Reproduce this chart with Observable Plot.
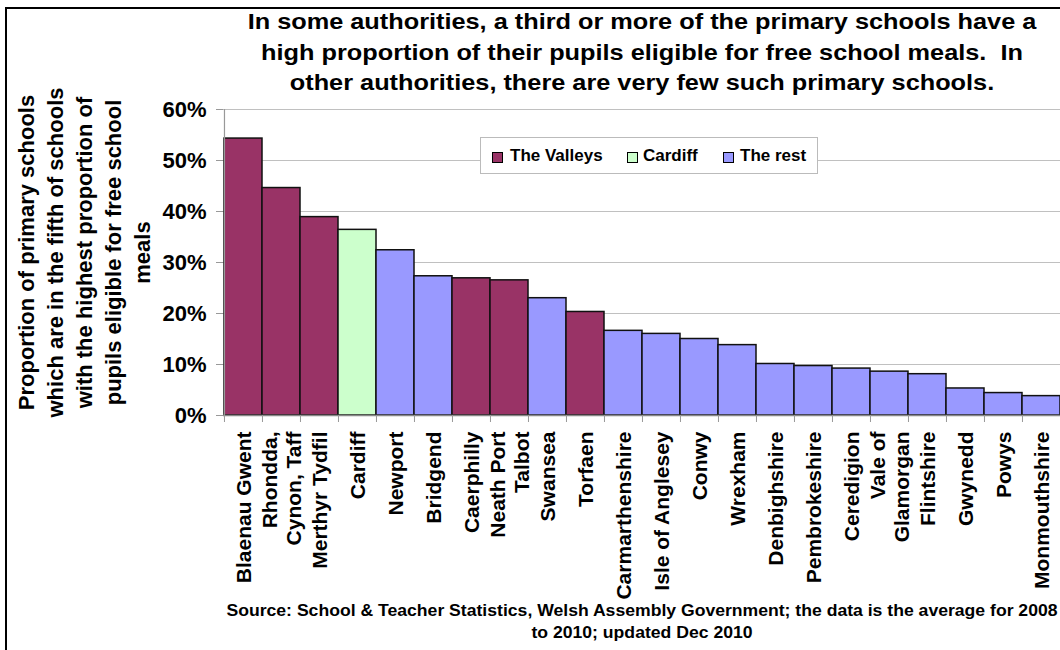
<!DOCTYPE html>
<html>
<head>
<meta charset="utf-8">
<script src="https://cdn.jsdelivr.net/npm/d3@7"></script>
<script src="https://cdn.jsdelivr.net/npm/@observablehq/plot@0.6"></script>
<style>
  body { margin: 0; background: #fff; font-family: "Liberation Sans", Arial, sans-serif; }
  #wrap { position: relative; width: 1060px; height: 650px; overflow: hidden; background: #fff; }
  #chart { position: absolute; left: 0; top: 0; }
  #frame { position: absolute; left: 5px; top: 7px; width: 1100px; height: 700px; border-left: 2px solid #000; border-top: 2px solid #000; pointer-events: none; }
  #title { position: absolute; left: 242px; top: 7px; width: 800px; text-align: center; font-weight: bold; font-size: 22px; line-height: 30.5px; color: #000; transform: scaleX(1.15); white-space: nowrap; }
  #caption { position: absolute; left: 242px; top: 600px; width: 800px; text-align: center; font-weight: bold; font-size: 16px; line-height: 22px; color: #000; transform: scaleX(1.1); white-space: nowrap; }
  #ylabel { position: absolute; left: -86px; top: 180px; width: 340px; height: 145px; text-align: center; font-weight: bold; font-size: 22px; line-height: 29px; color: #000; transform: rotate(-90deg); white-space: nowrap; }
  #legend { position: absolute; left: 480px; top: 137px; width: 336px; height: 35px; border: 1px solid #bbb; background: #fff; }
  .sw { position: absolute; top: 14px; width: 9px; height: 9px; border: 1px solid #000; }
  .lt { position: absolute; top: 8px; font-weight: bold; font-size: 17px; line-height: 20px; color: #000; white-space: nowrap; }
</style>
</head>
<body>
<div id="wrap">
  <div id="chart"></div>
  <div id="title"></div>
  <div id="ylabel"></div>
  <div id="legend"></div>
  <div id="caption"></div>
  <div id="frame"></div>
</div>
<script>
// ---- Data ----
const authorities = [
  "Blaenau Gwent", "Rhondda, Cynon, Taff", "Merthyr Tydfil", "Cardiff", "Newport",
  "Bridgend", "Caerphilly", "Neath Port Talbot", "Swansea", "Torfaen",
  "Carmarthenshire", "Isle of Anglesey", "Conwy", "Wrexham", "Denbighshire",
  "Pembrokeshire", "Ceredigion", "Vale of Glamorgan", "Flintshire", "Gwynedd",
  "Powys", "Monmouthshire"
];
const tickLabels = [
  "Blaenau Gwent", "Rhondda,\nCynon, Taff", "Merthyr Tydfil", "Cardiff", "Newport",
  "Bridgend", "Caerphilly", "Neath Port\nTalbot", "Swansea", "Torfaen",
  "Carmarthenshire", "Isle of Anglesey", "Conwy", "Wrexham", "Denbighshire",
  "Pembrokeshire", "Ceredigion", "Vale of\nGlamorgan", "Flintshire", "Gwynedd",
  "Powys", "Monmouthshire"
];
const shares = [
  54.3, 44.6, 38.9, 36.4, 32.4,
  27.3, 26.9, 26.5, 23.0, 20.3,
  16.6, 16.0, 15.0, 13.8, 10.1,
  9.7, 9.2, 8.6, 8.1, 5.3,
  4.4, 3.8
];
const groups = [
  "The Valleys", "The Valleys", "The Valleys", "Cardiff", "The rest",
  "The rest", "The Valleys", "The Valleys", "The rest", "The Valleys",
  "The rest", "The rest", "The rest", "The rest", "The rest",
  "The rest", "The rest", "The rest", "The rest", "The rest",
  "The rest", "The rest"
];
const groupNames = ["The Valleys", "Cardiff", "The rest"];
const groupColors = ["#993366", "#CCFFCC", "#9999FF"];
const yTicks = [0, 10, 20, 30, 40, 50, 60];

const titleLines = [
  "In some authorities, a third or more of the primary schools have a",
  "high proportion of their pupils eligible for free school meals.  In",
  "other authorities, there are very few such primary schools."
];
const yLabelLines = [
  "Proportion of primary schools",
  "which are in the fifth of schools",
  "with the highest proportion of",
  "pupils eligible for free school",
  "meals"
];
const captionLines = [
  "Source: School & Teacher Statistics, Welsh Assembly Government; the data is the average for 2008",
  "to 2010; updated Dec 2010"
];

// ---- Build ----
const data = authorities.map((name, i) => ({name, value: shares[i], group: groups[i]}));
const labelOf = new Map(authorities.map((a, i) => [a, tickLabels[i]]));

const W = 1060, H = 650, mL = 223, mR = 0, mT = 109, mB = 235;
const bw = (W - mL - mR) / authorities.length;

const chart = Plot.plot({
  width: W,
  height: H,
  marginLeft: mL,
  marginRight: mR,
  marginTop: mT,
  marginBottom: mB,
  style: {background: "transparent", fontFamily: "'Liberation Sans', Arial, sans-serif", color: "#000"},
  x: {type: "band", domain: authorities, padding: 0, label: null},
  y: {domain: [0, 60], ticks: yTicks, label: null},
  color: {domain: groupNames, range: groupColors},
  marks: [
    Plot.gridY(yTicks, {stroke: "#c0c0c0", strokeOpacity: 1}),
    Plot.barY(data, {x: "name", y: "value", fill: "group", stroke: "#111", strokeWidth: 1.5}),
    Plot.ruleX([authorities[0]], {dx: -bw / 2, stroke: "#999", strokeWidth: 1.2}),
    Plot.ruleY([0], {stroke: "#888", strokeWidth: 1.5}),
    Plot.ruleX(authorities, {dx: -bw / 2, insetTop: H - mT - mB, insetBottom: -7, stroke: "#999"}),
    Plot.axisY(yTicks, {
      tickSize: 7, tickPadding: 10, stroke: "#999",
      tickFormat: d => d + "%", fontSize: 22, fontWeight: "bold", fill: "#000"
    }),
    Plot.axisX({
      tickSize: 0, tickPadding: 16, tickRotate: -90,
      textAnchor: "end", lineAnchor: "middle", lineHeight: 1.15,
      tickFormat: d => labelOf.get(d), fontSize: 21, fontWeight: "bold", fill: "#000"
    })
  ]
});
document.getElementById("chart").appendChild(chart);

document.getElementById("title").innerHTML = titleLines.map(s => s.replace(/  /g, "&nbsp; ")).join("<br>");
document.getElementById("ylabel").innerHTML = yLabelLines.join("<br>");
document.getElementById("caption").innerHTML = captionLines.map(s => s.replace(/&/g, "&amp;")).join("<br>");

// Legend
const legend = document.getElementById("legend");
const swX = [11, 146, 242];
const txX = [29, 162, 259];
groupNames.forEach((g, i) => {
  const sw = document.createElement("div");
  sw.className = "sw";
  sw.style.left = swX[i] + "px";
  sw.style.background = groupColors[i];
  legend.appendChild(sw);
  const t = document.createElement("div");
  t.className = "lt";
  t.style.left = txX[i] + "px";
  t.textContent = g;
  legend.appendChild(t);
});
</script>
</body>
</html>
